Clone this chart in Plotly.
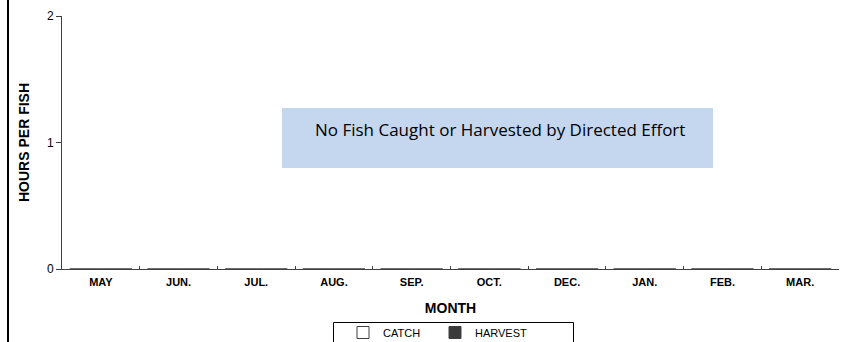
import plotly.graph_objects as go

# Monthly angler-hours per fish, by directed effort
months = ["MAY", "JUN.", "JUL.", "AUG.", "SEP.", "OCT.", "DEC.", "JAN.", "FEB.", "MAR."]
catch_hours = [0, 0, 0, 0, 0, 0, 0, 0, 0, 0]
harvest_hours = [0, 0, 0, 0, 0, 0, 0, 0, 0, 0]
note_text = "No Fish Caught or Harvested by Directed Effort"

AXIS = "#404040"

fig = go.Figure()
fig.add_trace(go.Bar(
    x=months, y=catch_hours, name="CATCH",
    marker=dict(color="white", line=dict(color=AXIS, width=1)),
))
fig.add_trace(go.Bar(
    x=months, y=harvest_hours, name="HARVEST",
    marker=dict(color="#3a3a3a", line=dict(color=AXIS, width=1)),
))

L, R, T, B = 62, 13, 16, 73
W, H = 852, 342
pw, ph = W - L - R, H - T - B

def px_x(px):
    return (px - L) / pw

def px_y(py):
    return (H - B - py) / ph

# frame line on the left edge
fig.add_shape(type="line", xref="paper", yref="paper",
              x0=px_x(8), x1=px_x(8), y0=px_y(H + 5), y1=px_y(-5),
              line=dict(color="black", width=2))

# legend frame (runs past the bottom edge of the figure)
fig.add_shape(type="rect", xref="paper", yref="paper",
              x0=px_x(333.5), x1=px_x(573.5), y0=px_y(H + 10), y1=px_y(322.5),
              line=dict(color="black", width=1), fillcolor="rgba(0,0,0,0)")

# note panel
fig.add_shape(type="rect", xref="paper", yref="paper",
              x0=px_x(282), x1=px_x(713), y0=px_y(168), y1=px_y(108),
              fillcolor="#C5D7EF", line=dict(width=0), layer="above")
fig.add_annotation(xref="paper", yref="paper", x=px_x(500), y=px_y(129),
                   text=note_text, showarrow=False,
                   font=dict(family="Open Sans, Noto Sans, sans-serif", size=17, color="black"))

fig.update_layout(
    width=W, height=H,
    margin=dict(l=L, r=R, t=T, b=B, autoexpand=False),
    paper_bgcolor="white", plot_bgcolor="white",
    barmode="group",
    font=dict(family="Liberation Sans, Arial, sans-serif", color="black"),
    showlegend=True,
    legend=dict(
        orientation="h", xanchor="left", yanchor="top",
        x=px_x(343), y=px_y(318),
        borderwidth=0, bgcolor="rgba(0,0,0,0)",
        font=dict(size=11, family="Liberation Sans, Arial, sans-serif"),
        entrywidth=47, itemwidth=30,
    ),
)
fig.update_xaxes(
    type="category", range=[-0.5, len(months) - 0.5],
    showline=True, linecolor=AXIS, linewidth=1,
    ticks="inside", ticklen=3, tickcolor=AXIS, tickson="boundaries",
    tickfont=dict(size=11, family="Liberation Sans, Arial, sans-serif"),
    tickprefix="<b>", ticksuffix="</b>", ticklabelstandoff=3,
    title=dict(text="<b>MONTH</b>", font=dict(size=14), standoff=15),
    showgrid=False, zeroline=False, fixedrange=True, automargin=False,
)
fig.update_yaxes(
    range=[0, 2], dtick=1, tick0=0,
    showline=True, linecolor=AXIS, linewidth=1,
    ticks="outside", ticklen=5, tickcolor=AXIS,
    tickfont=dict(size=12),
    title=dict(text="<b>HOURS PER FISH</b>", font=dict(size=14), standoff=14),
    showgrid=False, zeroline=False, fixedrange=True, automargin=False,
)

fig.write_html("out.html")
